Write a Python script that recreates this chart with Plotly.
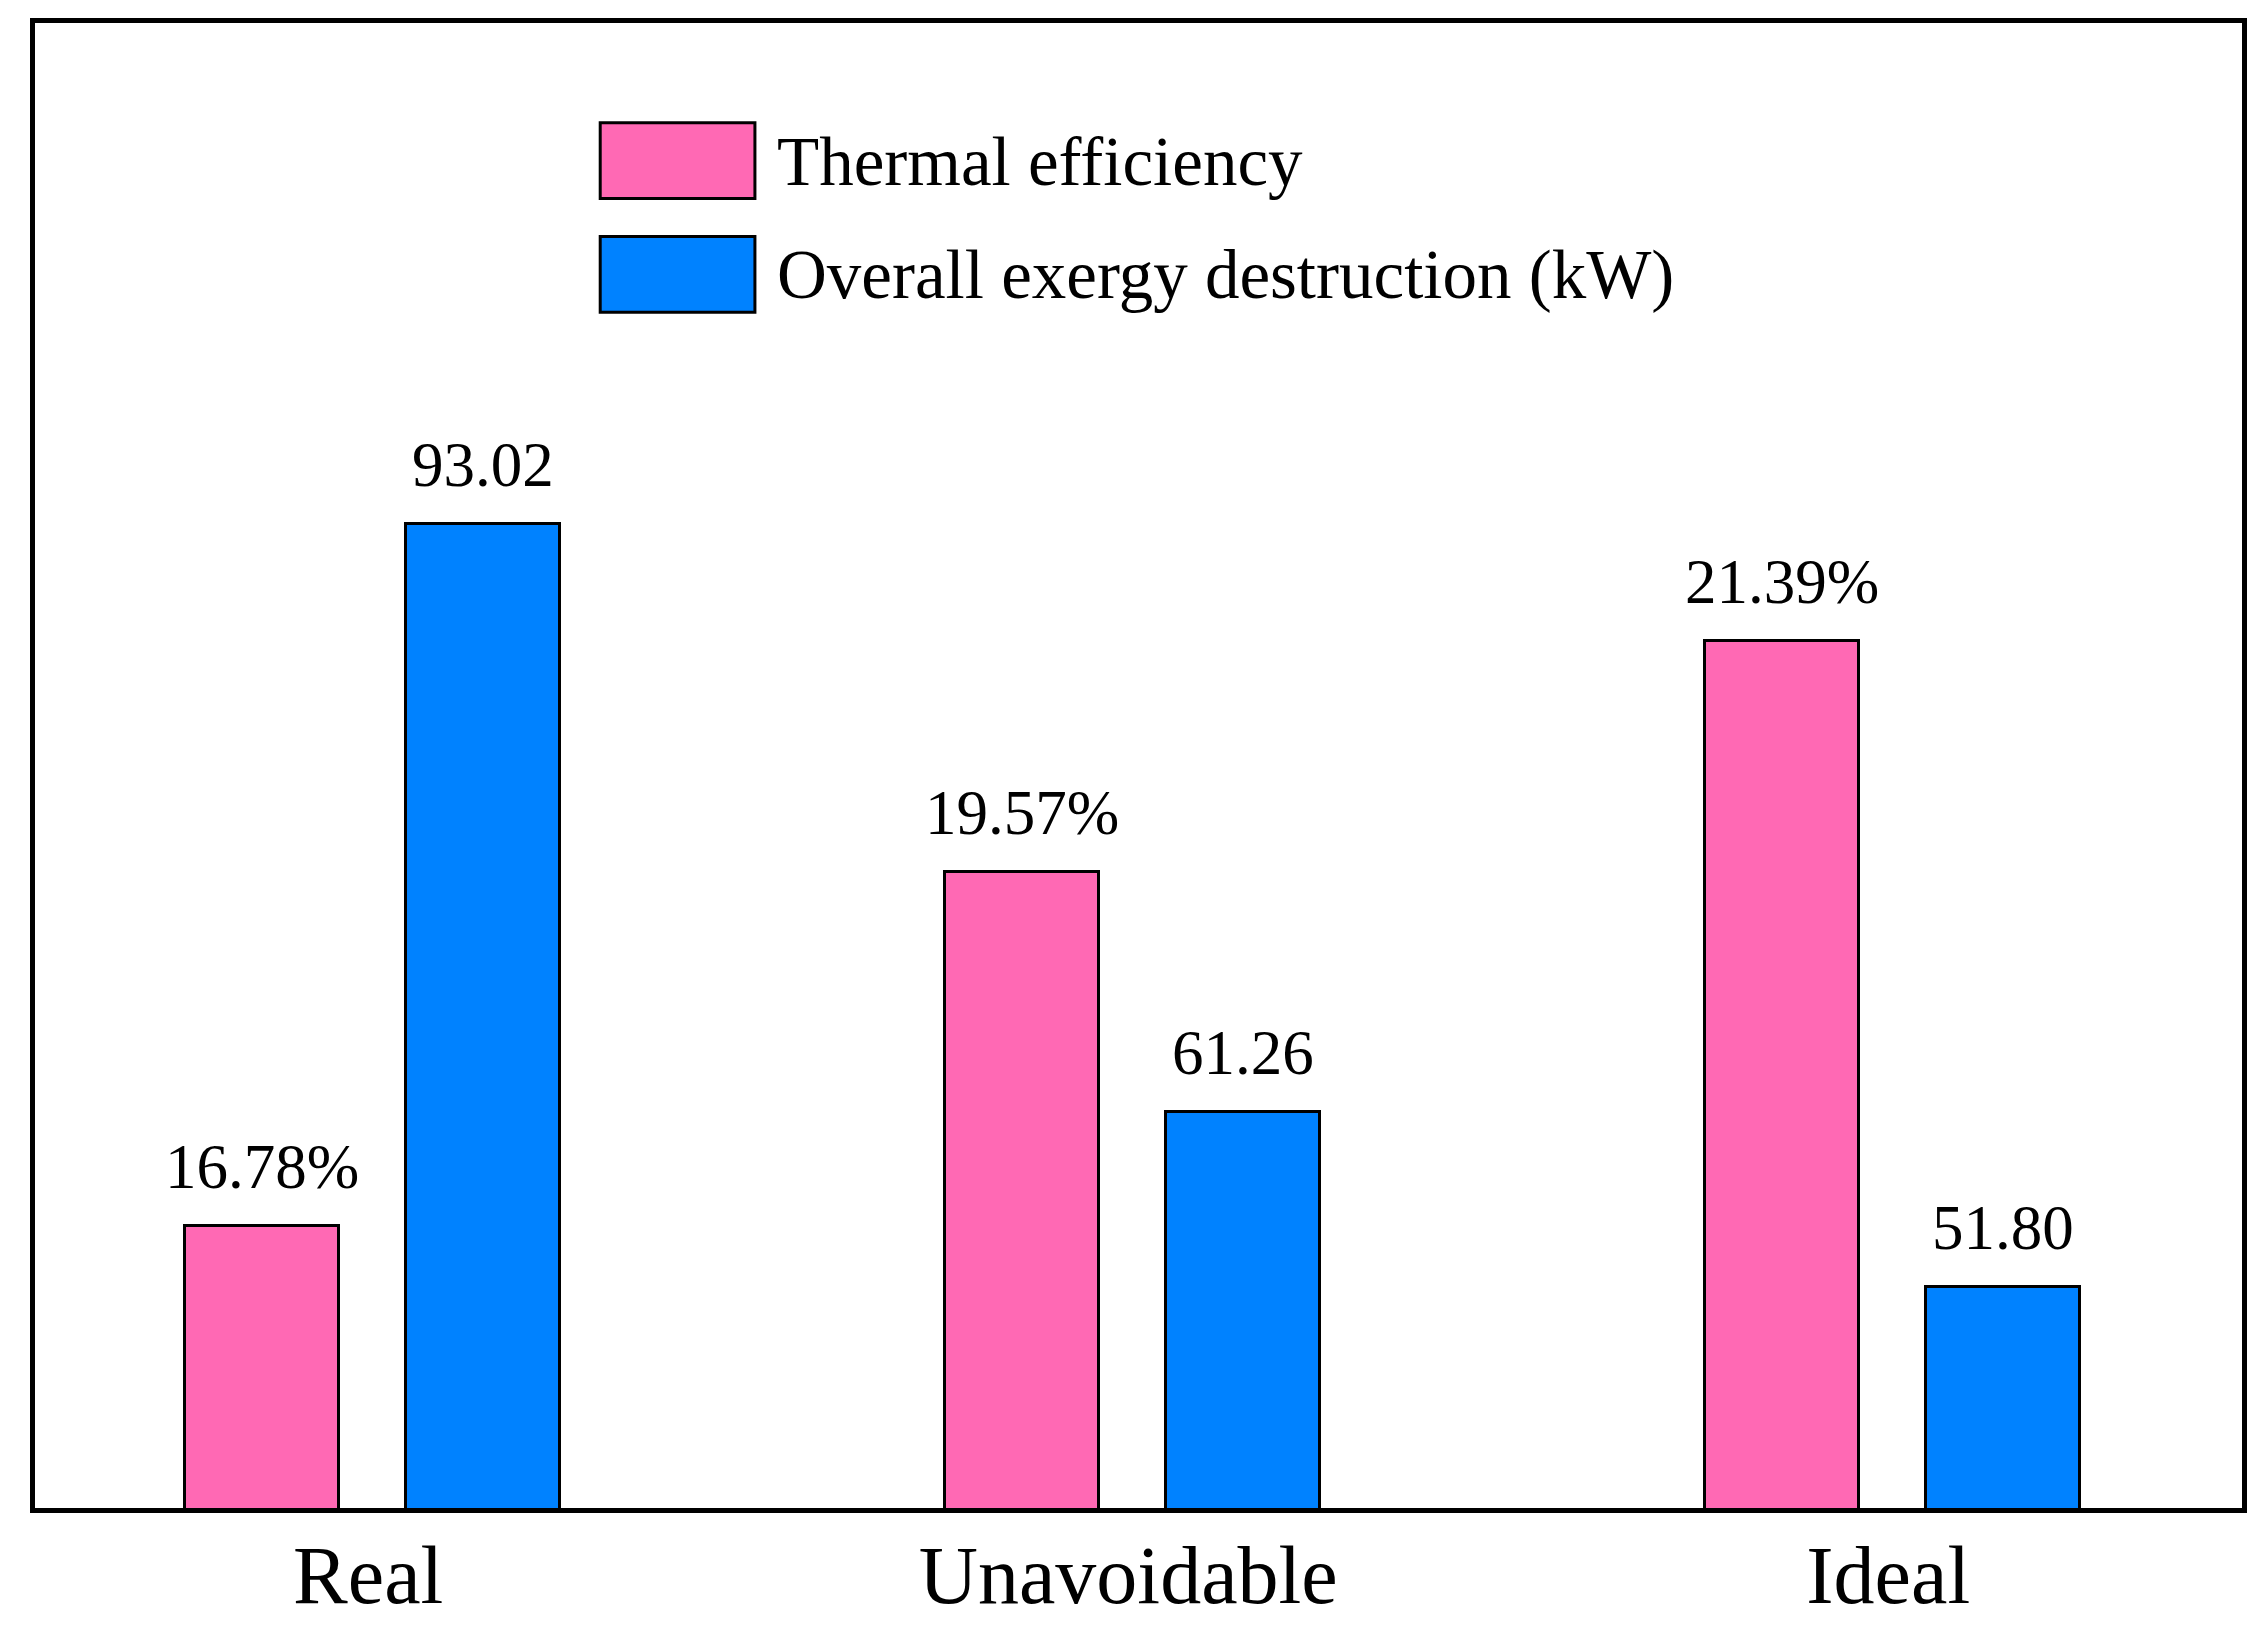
import plotly.graph_objects as go

categories = ["Real", "Unavoidable", "Ideal"]
thermal_eff = [16.78, 19.57, 21.39]          # %
exergy_destr = [93.02, 61.26, 51.80]         # kW
eff_labels = ["16.78%", "19.57%", "21.39%"]
exergy_labels = ["93.02", "61.26", "51.80"]
series_names = ["Thermal efficiency", "Overall exergy destruction (kW)"]

PINK = "#FF69B4"
BLUE = "#0082FF"
FONT = "Liberation Serif"

BAR_W = 0.203
OFF_PINK = -0.2412
OFF_BLUE = 0.0491
SHIFT_PINK = -106
SHIFT_BLUE = 115

fig = go.Figure()
fig.add_trace(go.Bar(
    x=categories, y=thermal_eff, name=series_names[0],
    marker=dict(color=PINK, line=dict(color="black", width=3)),
    width=BAR_W, offset=OFF_PINK, yaxis="y", showlegend=False,
))
fig.add_trace(go.Bar(
    x=categories, y=exergy_destr, name=series_names[1],
    marker=dict(color=BLUE, line=dict(color="black", width=3)),
    width=BAR_W, offset=OFF_BLUE, yaxis="y2", showlegend=False,
))

annotations = []
for c, v, t in zip(categories, thermal_eff, eff_labels):
    annotations.append(dict(x=c, y=v, xref="x", yref="y", text=t, showarrow=False,
                            xshift=SHIFT_PINK, yshift=22, yanchor="bottom",
                            font=dict(family=FONT, size=63, color="black")))
for c, v, t in zip(categories, exergy_destr, exergy_labels):
    annotations.append(dict(x=c, y=v, xref="x", yref="y2", text=t, showarrow=False,
                            xshift=SHIFT_BLUE, yshift=22, yanchor="bottom",
                            font=dict(family=FONT, size=63, color="black")))

# custom legend
shapes = [
    dict(type="rect", xref="paper", yref="paper", x0=0.2561, x1=0.3262, y0=0.8818, y1=0.9328,
         fillcolor=PINK, line=dict(color="black", width=3)),
    dict(type="rect", xref="paper", yref="paper", x0=0.2561, x1=0.3262, y0=0.8052, y1=0.8563,
         fillcolor=BLUE, line=dict(color="black", width=3)),
]
annotations.append(dict(x=0.3355, y=0.9066, xref="paper", yref="paper", text=series_names[0],
                        showarrow=False, xanchor="left", yanchor="middle",
                        font=dict(family=FONT, size=69, color="black")))
annotations.append(dict(x=0.3355, y=0.8301, xref="paper", yref="paper", text=series_names[1],
                        showarrow=False, xanchor="left", yanchor="middle",
                        font=dict(family=FONT, size=69, color="black")))

fig.update_layout(
    width=2248, height=1617,
    margin=dict(l=27, r=14, t=15, b=117),
    paper_bgcolor="white", plot_bgcolor="white",
    xaxis=dict(range=[-0.4385, 2.4655], showline=True, mirror=True, linecolor="black", linewidth=5,
               showgrid=False, zeroline=False, ticks="", automargin=False,
               ticklabelstandoff=-8,
               tickfont=dict(family=FONT, size=82, color="black")),
    yaxis=dict(range=[14.56, 26.26], showline=True, mirror=True, linecolor="black", linewidth=5,
               showgrid=False, zeroline=False, showticklabels=False, ticks="", automargin=False),
    yaxis2=dict(range=[39.87, 120.1], overlaying="y", side="right", showgrid=False,
                zeroline=False, showticklabels=False, ticks="", showline=False, automargin=False),
    annotations=annotations,
    shapes=shapes,
    bargap=0, barmode="overlay",
)

fig.write_html("out.html")
